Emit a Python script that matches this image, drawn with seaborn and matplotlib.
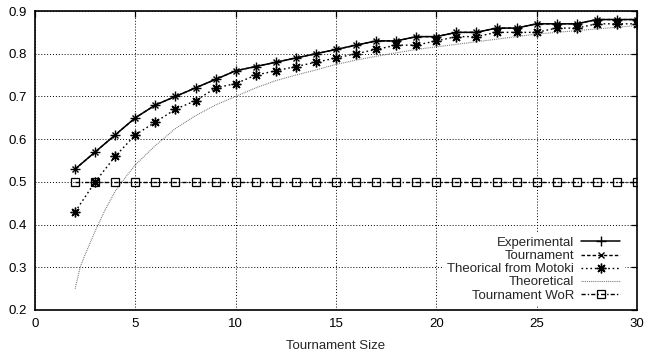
import numpy as np
import pandas as pd
import matplotlib
matplotlib.use("Agg")
import matplotlib.pyplot as plt
import seaborn as sns

sizes = list(range(2, 31))
experimental = [0.53, 0.57, 0.61, 0.65, 0.68, 0.70, 0.72, 0.74, 0.76, 0.77,
                0.78, 0.79, 0.80, 0.81, 0.82, 0.83, 0.83, 0.84, 0.84, 0.85,
                0.85, 0.86, 0.86, 0.87, 0.87, 0.87, 0.88, 0.88, 0.88]
tournament = [0.53, 0.57, 0.61, 0.65, 0.68, 0.70, 0.72, 0.74, 0.76, 0.77,
              0.78, 0.79, 0.80, 0.81, 0.82, 0.83, 0.83, 0.84, 0.84, 0.85,
              0.85, 0.86, 0.86, 0.87, 0.87, 0.87, 0.88, 0.88, 0.88]
motoki = [0.43, 0.50, 0.56, 0.61, 0.64, 0.67, 0.69, 0.72, 0.73, 0.75,
          0.76, 0.77, 0.78, 0.79, 0.80, 0.81, 0.82, 0.82, 0.83, 0.84,
          0.84, 0.85, 0.85, 0.85, 0.86, 0.86, 0.87, 0.87, 0.87]
wor = [0.50] * len(sizes)

theo_x = [2, 2.25, 2.5, 3, 3.5, 4, 4.5, 5, 6, 7, 8, 9, 10, 11, 12, 13, 14, 15,
          16, 17, 18, 19, 20, 21, 22, 23, 24, 25, 26, 27, 28, 29, 30]
theo_y = [0.25, 0.30, 0.33, 0.385, 0.435, 0.478, 0.51, 0.54, 0.585, 0.625,
          0.655, 0.68, 0.70, 0.72, 0.737, 0.75, 0.762, 0.775, 0.785, 0.794,
          0.802, 0.81, 0.816, 0.822, 0.828, 0.834, 0.84, 0.846, 0.85, 0.854,
          0.858, 0.862, 0.866]

x_ticks = [0, 5, 10, 15, 20, 25, 30]
y_ticks = [0.2, 0.3, 0.4, 0.5, 0.6, 0.7, 0.8, 0.9]

sns.set_style("white")
plt.rcParams['font.family'] = ['Liberation Sans', 'DejaVu Sans']

fig = plt.figure(figsize=(6.47, 3.57), dpi=100)
ax = fig.add_axes([35/647, 1-310/357, 602/647, 299/357])

common = dict(ax=ax, color="black", mec="black", legend=True)
sns.lineplot(x=sizes, y=experimental, label="Experimental", lw=1.1,
             linestyle="-", marker="+", markersize=7, mew=1.0, **common)
sns.lineplot(x=sizes, y=tournament, label="Tournament", lw=1.0,
             linestyle=(0, (2.5, 1.5)), marker="x", markersize=5, mew=1.0, **common)
sns.lineplot(x=sizes, y=motoki, label="Theorical from Motoki", lw=1.0,
             linestyle=(0, (1.2, 2.0)), marker=(8, 2, 0), markersize=7, mew=1.0, **common)
sns.lineplot(x=theo_x, y=theo_y, label="Theoretical", lw=0.8, ax=ax,
             color="#6f6f6f", linestyle=(0, (0.8, 0.9)), legend=True)
sns.lineplot(x=sizes, y=wor, label="Tournament WoR", lw=1.0,
             linestyle=(0, (3.0, 1.5, 1.0, 1.5)), marker="s", markersize=5.5,
             mew=0.9, fillstyle="none", **common)

ax.set_xlim(0, 30)
ax.set_ylim(0.2, 0.9)
ax.set_xticks(x_ticks)
ax.set_yticks(y_ticks)
ax.set_xticklabels([str(t) for t in x_ticks])
ax.set_yticklabels([f"{t:.1f}" for t in y_ticks])
ax.grid(True, color="black", linestyle=(0, (1, 2)), lw=0.7)
ax.set_axisbelow(True)
for s in ax.spines.values():
    s.set_visible(True)
    s.set_color("black")
    s.set_linewidth(1.2)
ax.tick_params(direction="in", length=4.5, width=0.9, top=True, right=True,
               labelsize=9.5, pad=6, colors="black")
ax.set_xlabel("Tournament Size", fontsize=9.5, labelpad=7)
ax.set_ylabel("")

ax.legend(loc="lower right", bbox_to_anchor=(0.978, 0.017), markerfirst=False,
          frameon=True, fancybox=False, framealpha=1, edgecolor="white",
          facecolor="white", fontsize=9.5, handlelength=3.0, handletextpad=0.5,
          labelspacing=0.07, borderpad=0.25, borderaxespad=0)

fig.savefig("out.png", dpi=100)
